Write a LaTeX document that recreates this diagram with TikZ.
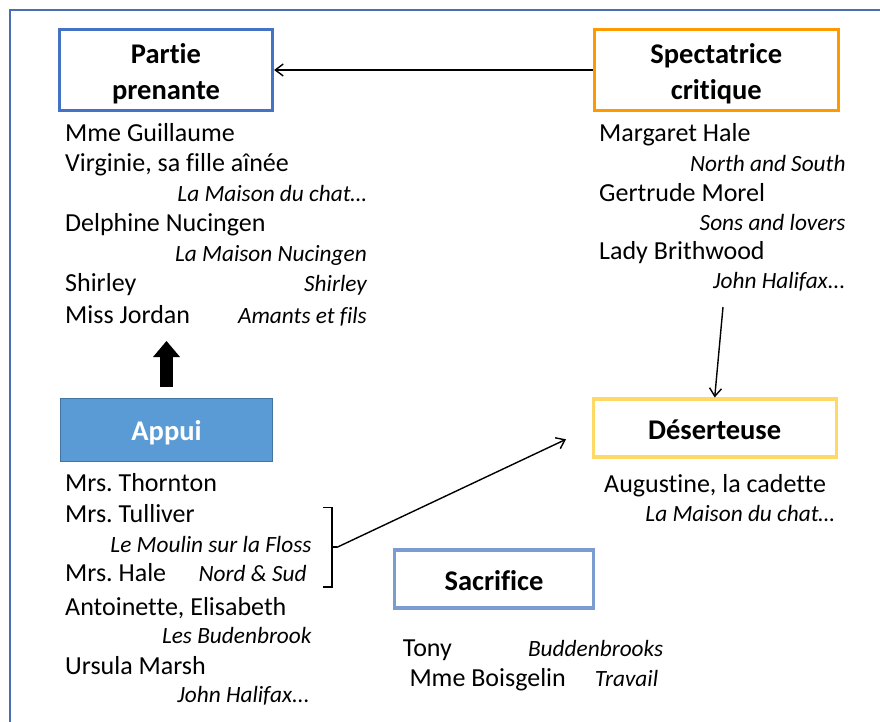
\documentclass[tikz,border=0pt]{standalone}
\usepackage{fontspec}
\setmainfont{Carlito}[Ligatures=NoCommon]
\usetikzlibrary{arrows.meta}
\frenchspacing
\definecolor{framec}{HTML}{4A6EB0}
\definecolor{bluec}{HTML}{4472C4}
\definecolor{orangec}{HTML}{FF9900}
\definecolor{yellowc}{HTML}{FFD966}
\definecolor{appuic}{HTML}{5B9BD5}
\definecolor{sacc}{HTML}{7A9CD0}
\newcommand{\topstrut}{\rule{0pt}{28pt}}
\tikzset{
  box/.style={draw, line width=3.2pt, rectangle, inner sep=0pt,
    font=\fontsize{28.5}{36}\selectfont\bfseries, align=center},
  one/.style={text height=22pt, text depth=0pt},
  nm/.style={anchor=base west, inner sep=0pt, font=\fontsize{26}{30}\selectfont},
  tt/.style={anchor=base east, inner sep=0pt, font=\fontsize{23.3}{27}\selectfont\itshape},
  arr/.style={line width=1.4pt, -{Straight Barb[length=8pt,width=12pt]}},
}
\begin{document}
\begin{tikzpicture}[x=1pt,y=-1pt]
\useasboundingbox (0,0) rectangle (880,722);
% frame
\draw[framec, line width=1.6pt] (10,722) -- (10,10) -- (880,10);

% boxes
\node[box, draw=bluec, minimum width=213pt, minimum height=81pt] (partie) at (166,70) {\topstrut Partie\\prenante};
\node[box, draw=orangec, minimum width=244pt, minimum height=81pt] (spec) at (716.3,70) {\topstrut Spectatrice\\critique};
\node[box, one, draw=yellowc, minimum width=243pt, minimum height=58pt] (des) at (714.7,428) {Déserteuse};
\node[box, one, draw=appuic!75!black, line width=0.8pt, fill=appuic, text=white, minimum width=212pt, minimum height=63pt] (appui) at (166.5,429.7) {Appui};
\node[box, one, draw=sacc, minimum width=199pt, minimum height=58pt] (sac) at (494,579) {Sacrifice};

% Partie prenante list
\node[nm] (p1) at (65,141.7) {Mme Guillaume};
\node[nm] (p2) at (65,171.7) {Virginie, sa fille aînée};
\node[tt] (p3) at (367,201.7) {La Maison du chat…};
\node[nm] (p4) at (65,231.7) {Delphine Nucingen};
\node[tt] (p5) at (367,261.7) {La Maison Nucingen};
\node[nm] (p6) at (65,291.7) {Shirley};
\node[tt] (p7) at (367,291.7) {Shirley};
\node[nm] (p8) at (65,323) {Miss Jordan};
\node[tt] (p9) at (367,323) {Amants et fils};

% Spectatrice list
\node[nm] (s1) at (599,141.7) {Margaret Hale};
\node[tt] (s2) at (845.7,171.7) {North and South};
\node[nm] (s3) at (599,201.7) {Gertrude Morel};
\node[tt] (s4) at (845.7,230.5) {Sons and lovers};
\node[nm] (s5) at (599,259.5) {Lady Brithwood};
\node[tt] (s6) at (845.7,288.5) {John Halifax...};

% Deserteuse list
\node[nm] (d1) at (604,492.7) {Augustine, la cadette};
\node[tt] (d2) at (835,521.7) {La Maison du chat…};

% Appui list
\node[nm] (a1) at (65,491.7) {Mrs. Thornton};
\node[nm] (a2) at (65,522.7) {Mrs. Tulliver};
\node[tt] (a3) at (311.7,552.3) {Le Moulin sur la Floss};
\node[nm] (a4) at (65,581.7) {Mrs. Hale};
\node[tt] (a5) at (306.7,581.7) {Nord \& Sud};
\node[nm] (a6) at (65,615) {Antoinette, Elisabeth};
\node[tt] (a7) at (311.7,643.3) {Les Budenbrook};
\node[nm] (a8) at (65,674) {Ursula Marsh};
\node[tt] (a9) at (310,702.3) {John Halifax...};

% Sacrifice list
\node[nm] (c1) at (402.7,656) {Tony};
\node[tt] (c2) at (663.3,656) {Buddenbrooks};
\node[nm] (c3) at (409.3,686) {Mme Boisgelin};
\node[tt] (c4) at (658.3,686) {Travail};

% connectors
\draw[arr] (spec.west) -- (partie.east);
\coordinate (sfrom) at (723,307);
\draw[arr] (sfrom) -- (des.north);
\coordinate (ufrom) at (166.5,387);
\coordinate (uto) at (166.5,341);
\draw[line width=13pt, -{Triangle[length=16pt,width=27pt,line width=0pt]}] (ufrom) -- (uto);
% bracket
\coordinate (bt) at (323.3,507.5);
\coordinate (bb) at (323.3,586.7);
\coordinate (bm) at (331.7,547.3);
\coordinate (bo) at (337,547.3);
\coordinate (bend) at (566,439.3);
\draw[line width=1.7pt] (bt) -- (331.7,507.5) -- (331.7,586.7) -- (bb);
\draw[line width=1.7pt] (bm) -- (bo);
\draw[arr] (bo) -- (bend);
\end{tikzpicture}
\end{document}
